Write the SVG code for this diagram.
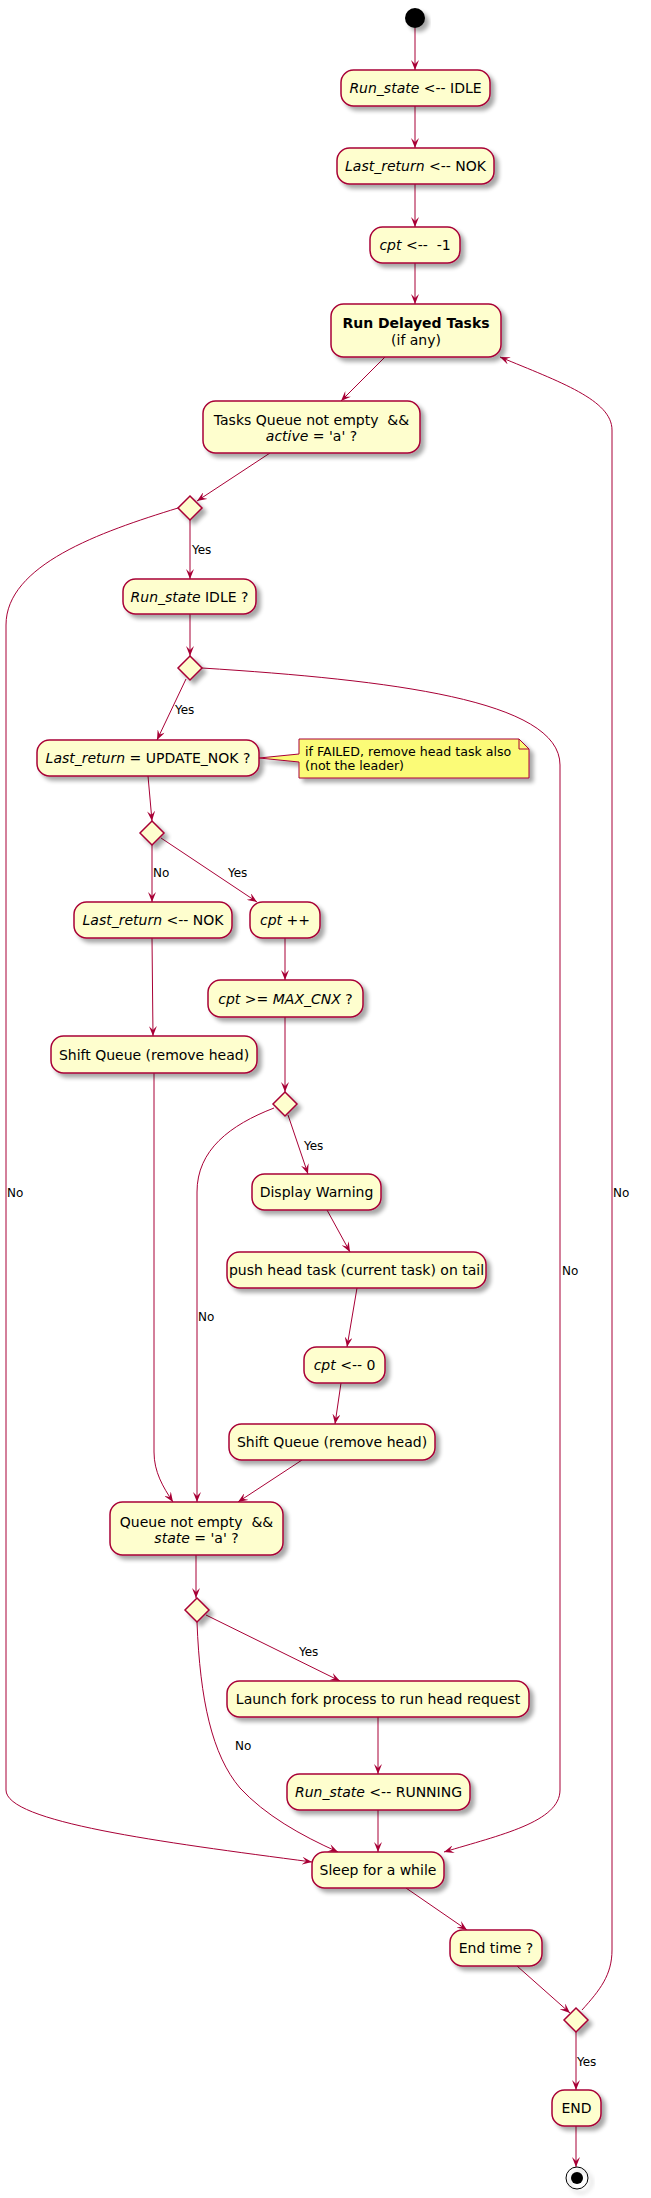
<svg xmlns="http://www.w3.org/2000/svg" width="651" height="2198" viewBox="0 0 651 2198">
<defs>
<filter id="sh" x="-20%" y="-20%" width="150%" height="160%">
<feGaussianBlur in="SourceAlpha" stdDeviation="2" result="b"/>
<feOffset in="b" dx="4" dy="4" result="o"/>
<feComponentTransfer in="o" result="s"><feFuncA type="linear" slope="0.35"/></feComponentTransfer>
<feMerge><feMergeNode in="s"/><feMergeNode in="SourceGraphic"/></feMerge>
</filter>
<marker id="ah" viewBox="0 0 10 8" refX="10" refY="4" markerWidth="10" markerHeight="8" markerUnits="userSpaceOnUse" orient="auto">
<path d="M0,0 L10,4 L0,8 L4,4 Z" fill="#A80036"/>
</marker>
</defs>
<style>
.box{fill:#FEFECE;stroke:#A80036;stroke-width:1.5;filter:url(#sh)}
.dia{fill:#FEFECE;stroke:#A80036;stroke-width:1.5;filter:url(#sh)}
.note{fill:#FBFB77;stroke:#A80036;stroke-width:1;filter:url(#sh)}
.t{font-family:"DejaVu Sans","Liberation Sans",sans-serif;font-size:14px;fill:#000;text-anchor:middle;white-space:pre}
.nt{font-family:"DejaVu Sans","Liberation Sans",sans-serif;font-size:12.6px;fill:#000;white-space:pre}
.lb{font-family:"DejaVu Sans","Liberation Sans",sans-serif;font-size:12px;fill:#000;white-space:pre}
.i{font-style:italic}
.b{font-weight:bold}
#connectors path,#connectors line{fill:none;stroke:#A80036;stroke-width:1}
.arr{marker-end:url(#ah)}
</style>
<rect width="651" height="2198" fill="#FFFFFF"/>

<g id="connectors">
<line class="arr" x1="415" y1="28" x2="415" y2="70"/>
<line class="arr" x1="415" y1="106" x2="415" y2="148"/>
<line class="arr" x1="415" y1="184" x2="415" y2="227"/>
<line class="arr" x1="415" y1="263" x2="415" y2="304"/>
<line class="arr" x1="385" y1="357" x2="341" y2="401"/>
<line class="arr" x1="270" y1="453" x2="197" y2="501"/>
<line class="arr" x1="190" y1="520" x2="190" y2="579"/>
<line class="arr" x1="190" y1="614" x2="190" y2="656"/>
<line class="arr" x1="186" y1="679" x2="157" y2="740"/>
<path class="arr" d="M202,668 C390,680 560,700 560,765 L560,1790 C560,1822 500,1835 444,1852"/>
<path class="arr" d="M178,508 C100,532 6,565 6,625 L6,1790 C6,1822 160,1842 312,1862"/>
<line class="arr" x1="148" y1="776" x2="152" y2="821"/>
<line class="arr" x1="152" y1="845" x2="152" y2="902"/>
<line class="arr" x1="161" y1="838" x2="257" y2="902"/>
<line class="arr" x1="285" y1="938" x2="285" y2="980"/>
<line class="arr" x1="152" y1="938" x2="153" y2="1036"/>
<line class="arr" x1="285" y1="1017" x2="285" y2="1092"/>
<line class="arr" x1="288" y1="1115" x2="308" y2="1174"/>
<path class="arr" d="M274,1108 C230,1125 197,1150 197,1192 L197,1502"/>
<path class="arr" d="M154,1073 L154,1452 C154,1472 163,1487 173,1502"/>
<line class="arr" x1="327" y1="1210" x2="350" y2="1252"/>
<line class="arr" x1="357" y1="1288" x2="347" y2="1347"/>
<line class="arr" x1="341" y1="1383" x2="335" y2="1424"/>
<line class="arr" x1="302" y1="1460" x2="238" y2="1502"/>
<line class="arr" x1="196" y1="1555" x2="196" y2="1598"/>
<line class="arr" x1="206" y1="1615" x2="340" y2="1681"/>
<path class="arr" d="M197,1622 C200,1700 212,1755 240,1788 C265,1815 300,1835 338,1852"/>
<line class="arr" x1="378" y1="1717" x2="378" y2="1774"/>
<line class="arr" x1="378" y1="1810" x2="378" y2="1852"/>
<line class="arr" x1="406" y1="1888" x2="467" y2="1930"/>
<line class="arr" x1="517" y1="1966" x2="570" y2="2013"/>
<line class="arr" x1="576" y1="2032" x2="576" y2="2090"/>
<line class="arr" x1="576" y1="2126" x2="576" y2="2167"/>
<path class="arr" d="M582,2010 C600,1990 612,1975 612,1950 L612,430 C612,400 560,382 500,357"/>
<text class="lb" x="192" y="554">Yes</text>
<text class="lb" x="175" y="714">Yes</text>
<text class="lb" x="153" y="877">No</text>
<text class="lb" x="228" y="877">Yes</text>
<text class="lb" x="304" y="1150">Yes</text>
<text class="lb" x="198" y="1321">No</text>
<text class="lb" x="299" y="1656">Yes</text>
<text class="lb" x="235" y="1750">No</text>
<text class="lb" x="577" y="2066">Yes</text>
<text class="lb" x="562" y="1275">No</text>
<text class="lb" x="613" y="1197">No</text>
<text class="lb" x="7" y="1197">No</text>
</g>

<g id="start"><circle cx="415" cy="18" r="10" fill="#000" filter="url(#sh)"/></g>
<g id="n1"><rect class="box" x="341" y="70" width="149" height="36" rx="12.5"/><text class="t" x="415.5" y="93"><tspan class="i">Run_state</tspan> &lt;-- IDLE</text></g>
<g id="n2"><rect class="box" x="337" y="148" width="157" height="36" rx="12.5"/><text class="t" x="415.5" y="171"><tspan class="i">Last_return</tspan> &lt;-- NOK</text></g>
<g id="n3"><rect class="box" x="370" y="227" width="90" height="36" rx="12.5"/><text class="t" x="415" y="250"><tspan class="i">cpt</tspan> &lt;--  -1</text></g>
<g id="n4"><rect class="box" x="331" y="304" width="170" height="53" rx="12.5"/><text class="t b" x="416" y="328">Run Delayed Tasks</text><text class="t" x="416" y="345">(if any)</text></g>
<g id="n5"><rect class="box" x="203" y="401" width="217" height="52" rx="12.5"/><text class="t" x="311.5" y="425">Tasks Queue not empty  &amp;&amp;</text><text class="t" x="311.5" y="441"><tspan class="i">active</tspan> = 'a' ?</text></g>
<g id="d1"><polygon class="dia" points="190,496 202,508 190,520 178,508"/></g>
<g id="n6"><rect class="box" x="123" y="579" width="133" height="35" rx="12.5"/><text class="t" x="189.5" y="602"><tspan class="i">Run_state</tspan> IDLE ?</text></g>
<g id="d2"><polygon class="dia" points="190,656 202,668 190,680 178,668"/></g>
<g id="n7"><rect class="box" x="37" y="740" width="222" height="36" rx="12.5"/><text class="t" x="148" y="763"><tspan class="i">Last_return</tspan> = UPDATE_NOK ?</text></g>
<g id="note1"><path class="note" d="M299,739 L519,739 L529,749 L529,778 L299,778 L299,762 L259,758 L299,754 Z"/><path d="M519,739 L519,749 L529,749" fill="none" stroke="#A80036" stroke-width="1"/><text class="nt" x="305" y="756">if FAILED, remove head task also</text><text class="nt" x="305" y="770">(not the leader)</text></g>
<g id="d3"><polygon class="dia" points="152,821 164,833 152,845 140,833"/></g>
<g id="n8"><rect class="box" x="74" y="902" width="158" height="36" rx="12.5"/><text class="t" x="153" y="925"><tspan class="i">Last_return</tspan> &lt;-- NOK</text></g>
<g id="n9"><rect class="box" x="250" y="902" width="70" height="36" rx="12.5"/><text class="t" x="285" y="925"><tspan class="i">cpt</tspan> ++</text></g>
<g id="n10"><rect class="box" x="208" y="980" width="155" height="37" rx="12.5"/><text class="t" x="285.5" y="1004"><tspan class="i">cpt</tspan> &gt;= <tspan class="i">MAX_CNX</tspan> ?</text></g>
<g id="n11"><rect class="box" x="51" y="1036" width="206" height="37" rx="12.5"/><text class="t" x="154" y="1060">Shift Queue (remove head)</text></g>
<g id="d4"><polygon class="dia" points="285,1092 297,1104 285,1116 273,1104"/></g>
<g id="n12"><rect class="box" x="252" y="1174" width="129" height="36" rx="12.5"/><text class="t" x="316.5" y="1197">Display Warning</text></g>
<g id="n13"><rect class="box" x="227" y="1252" width="259" height="36" rx="12.5"/><text class="t" x="356.5" y="1275">push head task (current task) on tail</text></g>
<g id="n14"><rect class="box" x="304" y="1347" width="81" height="36" rx="12.5"/><text class="t" x="344.5" y="1370"><tspan class="i">cpt</tspan> &lt;-- 0</text></g>
<g id="n15"><rect class="box" x="229" y="1424" width="206" height="36" rx="12.5"/><text class="t" x="332" y="1447">Shift Queue (remove head)</text></g>
<g id="n16"><rect class="box" x="110" y="1502" width="173" height="53" rx="12.5"/><text class="t" x="196.5" y="1527">Queue not empty  &amp;&amp;</text><text class="t" x="196.5" y="1543"><tspan class="i">state</tspan> = 'a' ?</text></g>
<g id="d5"><polygon class="dia" points="197,1598 209,1610 197,1622 185,1610"/></g>
<g id="n17"><rect class="box" x="227" y="1681" width="302" height="36" rx="12.5"/><text class="t" x="378" y="1704">Launch fork process to run head request</text></g>
<g id="n18"><rect class="box" x="287" y="1774" width="183" height="36" rx="12.5"/><text class="t" x="378.5" y="1797"><tspan class="i">Run_state</tspan> &lt;-- RUNNING</text></g>
<g id="n19"><rect class="box" x="312" y="1852" width="132" height="36" rx="12.5"/><text class="t" x="378" y="1875">Sleep for a while</text></g>
<g id="n20"><rect class="box" x="450" y="1930" width="92" height="36" rx="12.5"/><text class="t" x="496" y="1953">End time ?</text></g>
<g id="d6"><polygon class="dia" points="576,2008 588,2020 576,2032 564,2020"/></g>
<g id="n21"><rect class="box" x="552" y="2090" width="49" height="36" rx="12.5"/><text class="t" x="576.5" y="2113">END</text></g>
<g id="end"><circle cx="577" cy="2178" r="11" fill="none" stroke="#000" stroke-width="1" filter="url(#sh)"/><circle cx="577" cy="2178" r="6" fill="#000"/></g>
</svg>
